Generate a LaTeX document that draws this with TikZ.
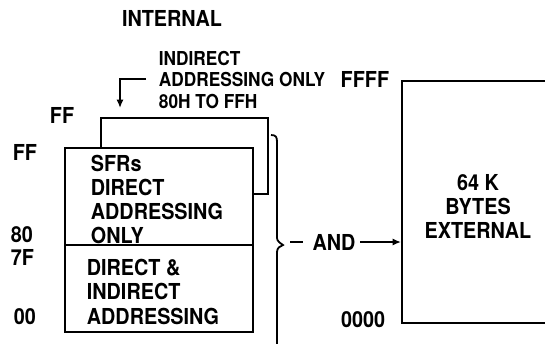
\documentclass[tikz,border=0pt]{standalone}
\usepackage{fontspec}
\setmainfont{TeX Gyre Heros}[FakeStretch=0.9]
\usetikzlibrary{arrows.meta}
\begin{document}
\begin{tikzpicture}[x=0.5pt,y=-0.5pt,line width=0.9pt,
  lbl/.style={font=\fontsize{11}{12}\selectfont\bfseries,inner sep=0pt},
  txt/.style={lbl,align=left,anchor=north west},
  membox/.style={draw,anchor=north west,inner sep=0pt},
  arr/.style={-{Latex[length=4.2pt,width=3.6pt]}}]
\clip (0,0) rectangle (545,343);
% internal memory
\node[membox,minimum width=83.5pt,minimum height=38pt] (back) at (100,117) {};
\node[membox,fill=white,minimum width=94pt,minimum height=92pt] (front) at (64,147) {};
\draw (front.west |- 0,245) -- (front.east |- 0,245);
\node[txt] (sfr) at (90,154) {SFRs\\DIRECT\\ADDRESSING\\ONLY};
\node[txt,font=\fontsize{11}{12.25}\selectfont\bfseries] (dir) at (86,258) {DIRECT \&\\INDIRECT\\ADDRESSING};
\node[txt,font=\fontsize{9.6}{10.75}\selectfont\bfseries] (anno) at (158,50) {INDIRECT\\ADDRESSING ONLY\\80H TO FFH};
\node[lbl] (int) at (172,18) {INTERNAL};
% address labels
\node[lbl] (ffb) at (62,115) {FF};
\node[lbl,anchor=west] (fff) at (12,152) {FF};
\node[lbl,anchor=west] (l80) at (10,235) {80};
\node[lbl,anchor=west] (l7f) at (10,257) {7F};
\node[lbl,anchor=west] (l00) at (13,317) {00};
\node[lbl,anchor=east] (ffff) at (390,79) {FFFF};
\node[lbl,anchor=east] (zero) at (386,320) {0000};
% annotation arrow
\coordinate (a0) at (146,79);
\coordinate (a1) at (120,108);
\draw[arr] (a0) -| (a1);
% external memory
\node[membox,minimum width=110pt,minimum height=121pt] (ext) at (401,80) {};
\node[lbl,align=center,anchor=north] (exttxt) at (478,174) {64 K\\BYTES\\EXTERNAL};
% brace and connector
\draw (271,135) .. controls (276,135) and (277,137) .. (277,142)
  -- (277,238) .. controls (277,241) and (280,243) .. (283,245)
  .. controls (280,246) and (277,248) .. (277,252) -- (277,350);
\node[lbl,inner xsep=2pt] (and) at (334,242) {AND};
\coordinate (d0) at (290,242);
\draw (d0) -- ([xshift=-2.5pt]and.west);
\draw[arr] (and.east) -- (ext.west |- and.east);
\end{tikzpicture}
\end{document}
